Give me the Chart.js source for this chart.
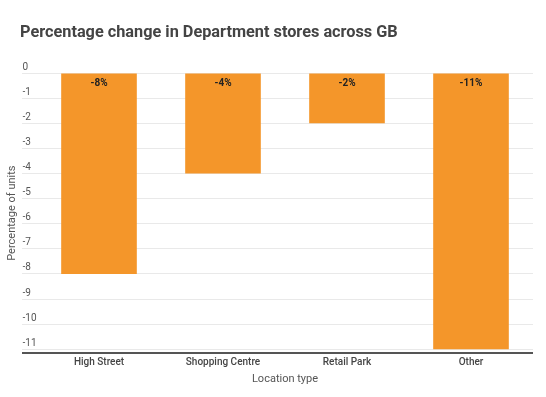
<!DOCTYPE html>
<html>
<head>
<meta charset="utf-8">
<script src="https://cdn.jsdelivr.net/npm/chart.js@4.4.1/dist/chart.umd.min.js"></script>
<style>
    html, body { margin: 0; padding: 0; background: #fff; }
    #cadru { position: relative; width: 546px; height: 397px; }
    #grafic { position: absolute; left: 0; top: 0; }
    #titlu {
        position: absolute; left: 20px; top: 22px;
        font: bold 16.3px Roboto, sans-serif; color: #444; white-space: nowrap;
    }
</style>
</head>
<body>
<div id="cadru">
    <canvas id="grafic" width="546" height="397"></canvas>
    <div id="titlu">Percentage change in Department stores across GB</div>
</div>
<script>
// datele graficului
const locatii = ['High Street', 'Shopping Centre', 'Retail Park', 'Other'];
const procente = [-8, -4, -2, -11];
const valoriAxaY = [0, -1, -2, -3, -4, -5, -6, -7, -8, -9, -10, -11];

const culoareBara = '#f4962a';
const culoareGrila = '#e9e9e9';
const culoareAxa = '#555';

// etichetele de pe bare (-8% etc)
const eticheteBare = {
    id: 'eticheteBare',
    afterDatasetsDraw(chart) {
        const ctx = chart.ctx;
        const meta = chart.getDatasetMeta(0);
        ctx.save();
        ctx.font = 'bold 10px Roboto, sans-serif';
        ctx.fillStyle = '#222';
        ctx.textAlign = 'center';
        ctx.textBaseline = 'middle';
        meta.data.forEach((bara, i) => {
            ctx.fillText(procente[i] + '%', bara.x, bara.base + 10);
        });
        ctx.restore();
    }
};

var ctx = document.getElementById('grafic').getContext('2d');
var grafic = new Chart(ctx, {
    type: 'bar',
    data: {
        labels: locatii,
        datasets: [{
            label: 'Percentage of units',
            data: procente,
            backgroundColor: culoareBara,
            borderWidth: 0,
            barPercentage: 0.61,
            categoryPercentage: 1
        }]
    },
    options: {
        responsive: false,
        animation: false,
        layout: {
            padding: { top: 73, right: 13, bottom: 1.5, left: 22.5 }
        },
        plugins: {
            legend: { display: false },
            title: { display: false },
            tooltip: { enabled: false }
        },
        scales: {
            x: {
                grid: { display: false, drawTicks: false },
                border: { display: false },
                ticks: {
                    padding: 3,
                    color: '#444',
                    font: { family: 'Roboto', size: 10, weight: 500 }
                },
                title: {
                    display: true,
                    text: 'Location type',
                    color: '#555',
                    font: { family: 'Roboto', size: 11 },
                    padding: { top: 1, bottom: 10 }
                }
            },
            y: {
                min: -11.16,
                max: 0,
                afterBuildTicks: scale => {
                    scale.ticks = valoriAxaY.map(v => ({ value: v }));
                    scale.ticks.push({ value: scale.min });
                },
                // latime fixa, etichetele stau aliniate la stanga
                afterFit: scale => {
                    scale.width = 14.5;
                },
                grid: {
                    drawTicks: true,
                    tickLength: 15,
                    color: c => (c.tick && c.tick.value === c.scale.min) ? culoareAxa : culoareGrila,
                    lineWidth: c => (c.tick && c.tick.value === c.scale.min) ? 2 : 1
                },
                border: { display: false },
                ticks: {
                    crossAlign: 'far',
                    labelOffset: -6,
                    color: '#555',
                    font: { family: 'Roboto', size: 10 },
                    callback: v => valoriAxaY.includes(v) ? v : ''
                },
                title: {
                    display: true,
                    text: 'Percentage of units',
                    color: '#555',
                    font: { family: 'Roboto', size: 11 },
                    padding: { top: -17, bottom: 4 }
                }
            }
        }
    },
    plugins: [eticheteBare]
});
</script>
</body>
</html>
